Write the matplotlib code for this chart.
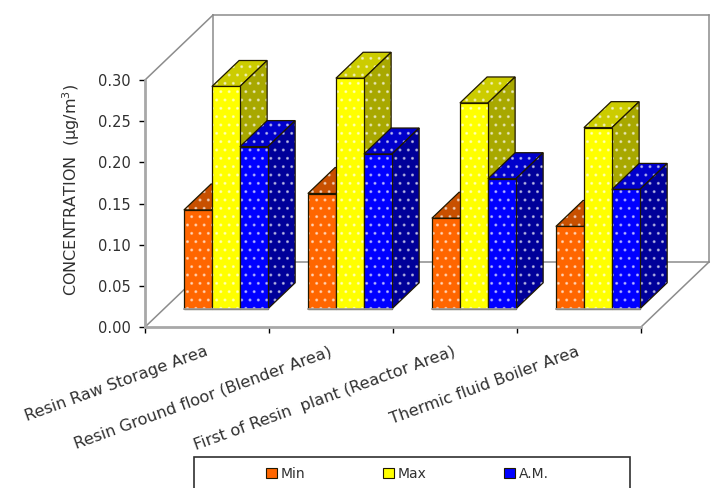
import matplotlib
matplotlib.use('Agg')
import matplotlib.pyplot as plt
from matplotlib.patches import Polygon, Patch, Rectangle

categories = ['Resin Raw Storage Area', 'Resin Ground floor (Blender Area)',
              'First of Resin  plant (Reactor Area)', 'Thermic fluid Boiler Area']
series_names = ['Min', 'Max', 'A.M.']
min_vals = [0.120, 0.140, 0.110, 0.100]
max_vals = [0.270, 0.280, 0.250, 0.220]
am_vals = [0.197, 0.188, 0.158, 0.145]
y_ticks = [0.00, 0.05, 0.10, 0.15, 0.20, 0.25, 0.30]

# front, top, side colours for each series
colours = [('#FF6600', '#C85000', '#A84000'),
           ('#FFFF00', '#CCCC00', '#A8A800'),
           ('#0000FF', '#0000CC', '#000099')]

plt.rcParams['font.family'] = ['DejaVu Sans']

W, H = 715, 488
fig = plt.figure(figsize=(W / 100, H / 100), dpi=100)
ax = fig.add_axes([145 / W, 1 - 327 / H, 496 / W, 247 / H])
ax.set_xlim(0, 4)
ax.set_ylim(0, 0.30)

# one unit of depth moves a point this far in data units
DX = 68 / 124
DY = 65 / (247 / 0.30)


def proj(x, v, d):
    return (x + d * DX, v + d * DY)


def face(pts, **kw):
    p = Polygon([proj(*q) for q in pts], clip_on=False, **kw)
    ax.add_patch(p)


def dotted_face(pts, colour, z):
    # hatch takes the edge colour, so the dots and the outline are two patches
    face(pts, facecolor=colour, edgecolor=(1, 1, 1, 0.5), hatch='..', linewidth=0, zorder=z)
    face(pts, facecolor='none', edgecolor='#201800', linewidth=0.9, zorder=z)


# walls of the 3d box
wall = dict(color='#8C8C8C', linewidth=1.1, clip_on=False, zorder=1)
ymax = 0.30
for a, b in [((0, ymax, 0), (0, ymax, 1)), ((0, ymax, 1), (4, ymax, 1)),
             ((0, 0, 1), (0, ymax, 1)), ((0, 0, 1), (4, 0, 1)),
             ((4, 0, 1), (4, ymax, 1)), ((0, 0, 0), (0, 0, 1)),
             ((4, 0, 0), (4, 0, 1))]:
    pa, pb = proj(*a), proj(*b)
    ax.plot([pa[0], pb[0]], [pa[1], pb[1]], **wall)

bar_w = 0.226
d0, d1 = 0.28, 0.68
z = 3
for i in range(len(categories)):
    left = i + 0.16
    for j, vals in enumerate([min_vals, max_vals, am_vals]):
        v = vals[i]
        x0 = left + j * bar_w
        x1 = x0 + bar_w
        c_front, c_top, c_side = colours[j]
        dotted_face([(x0, v, d0), (x1, v, d0), (x1, v, d1), (x0, v, d1)], c_top, z)
        dotted_face([(x1, 0, d0), (x1, v, d0), (x1, v, d1), (x1, 0, d1)], c_side, z)
        dotted_face([(x0, 0, d0), (x1, 0, d0), (x1, v, d0), (x0, v, d0)], c_front, z)
        z += 1
    # grey line under the group
    a, b = proj(left, 0, d0), proj(left + 3 * bar_w, 0, d0)
    ax.plot([a[0], b[0]], [a[1], b[1]], color='#A0A0A0', linewidth=1.2, clip_on=False, zorder=z)

for s in ['top', 'right']:
    ax.spines[s].set_visible(False)
for s in ['left', 'bottom']:
    ax.spines[s].set_color('#A8A8A8')
    ax.spines[s].set_linewidth(2)

ax.set_yticks(y_ticks)
ax.set_yticklabels(['%.2f' % t for t in y_ticks], fontsize=10.5, color='#303030')
ax.set_xticks(range(5))
ax.set_xticklabels([])
ax.tick_params(axis='both', which='major', length=4.5, width=1, color='black', pad=6)

ax.set_xticks([i + 0.48 for i in range(4)], minor=True)
ax.set_xticklabels(categories, minor=True, rotation=20, ha='right', va='top',
                   rotation_mode='anchor', fontsize=11.6, color='#303030')
ax.tick_params(axis='x', which='minor', length=0, pad=12)

ax.set_ylabel('CONCENTRATION  (µg/m$^3$)', fontsize=11.5, color='#303030')
ax.yaxis.set_label_coords(-0.128, 0.555)
ax.patch.set_visible(False)

# the legend box runs off the bottom of the picture
fig.add_artist(Rectangle((194 / W, -0.05), 436 / W, 1 - 457 / H + 0.05, transform=fig.transFigure,
                         facecolor='white', edgecolor='#303030', linewidth=1.2))
handles = [Patch(facecolor=colours[k][0], edgecolor='#201800', linewidth=0.8)
           for k in range(3)]
leg = fig.legend(handles, series_names, ncol=3, loc='center left',
                 bbox_to_anchor=(266 / W, 1 - 474 / H), frameon=False, fontsize=10,
                 handlelength=0.8, handleheight=0.8, handletextpad=0.25,
                 columnspacing=5.6, borderpad=0, borderaxespad=0, labelcolor='#303030')

fig.savefig('out.png', dpi=100)
